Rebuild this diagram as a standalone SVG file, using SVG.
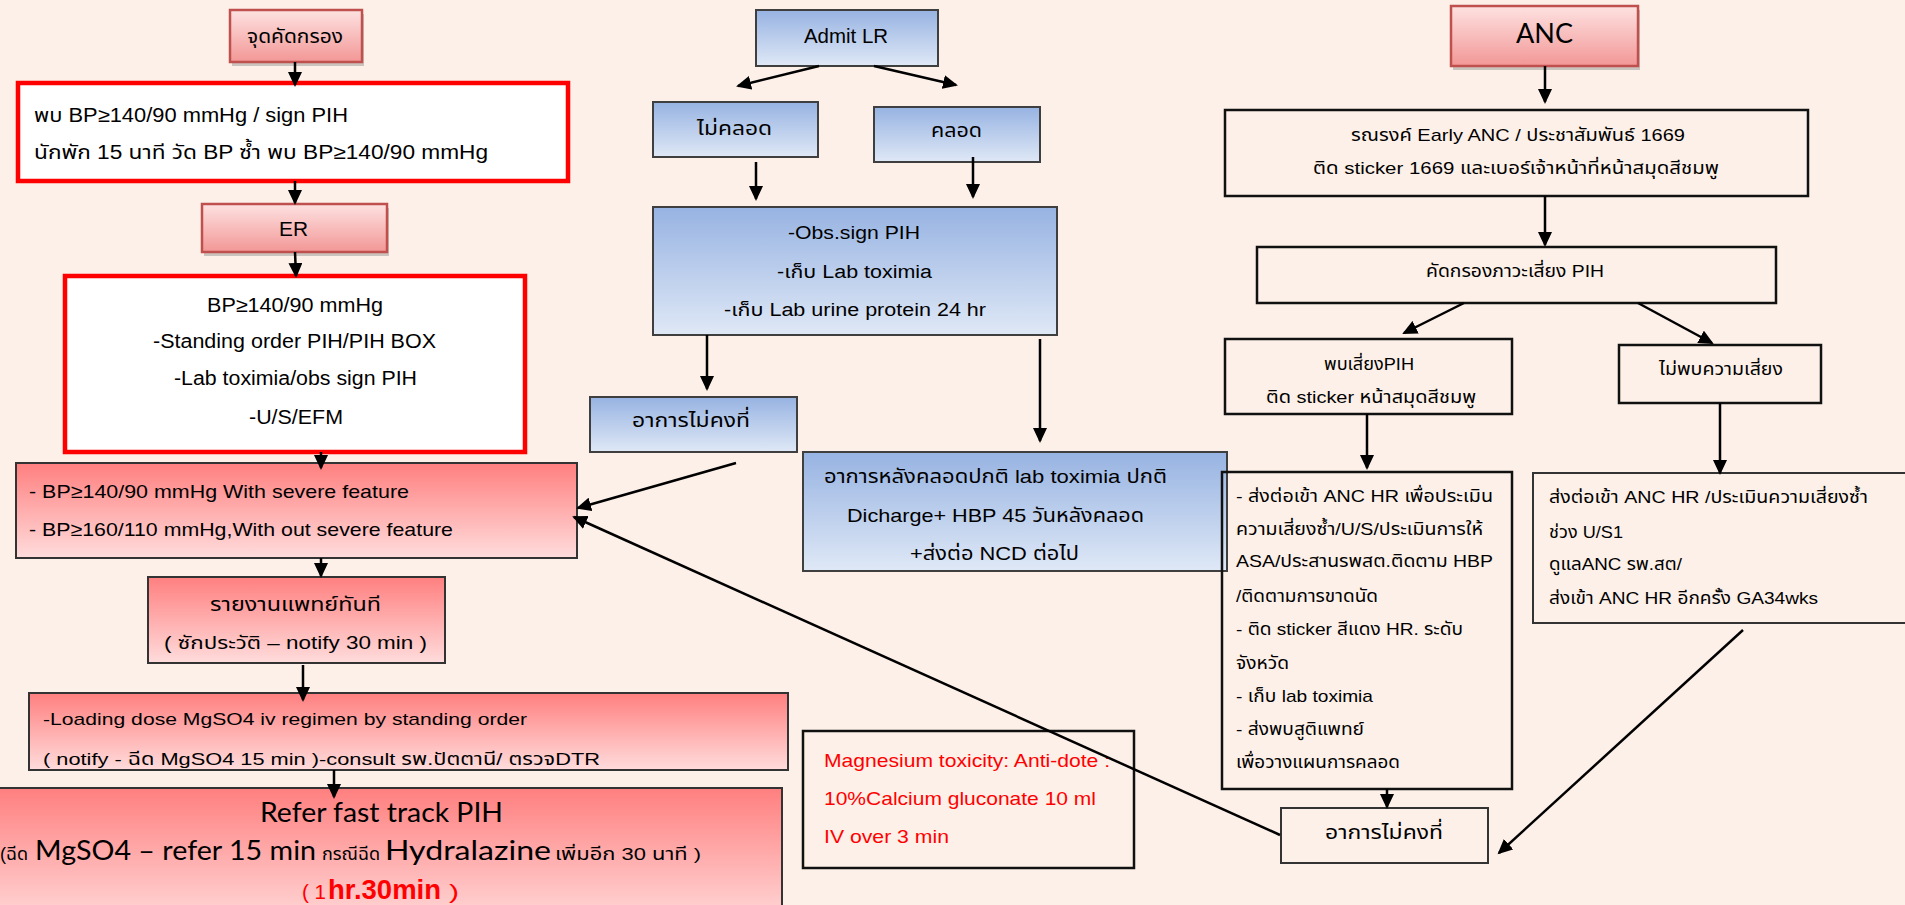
<svg xmlns="http://www.w3.org/2000/svg" width="1905" height="905" viewBox="0 0 1905 905">
  <style>
    .t { font-family: "Liberation Sans", "Noto Sans Thai", "Noto Sans", "DejaVu Sans", sans-serif; fill: #000; }
    .cal { font-family: Lato, "Liberation Sans", "Noto Sans Thai", sans-serif; fill: #000; }
    .red { fill: #ff0000; }
    .hdr { fill: url(#gHdr); stroke: #c0504d; stroke-width: 2.5; }
    .shadow { fill: #8c8c8c; opacity: 0.45; }
    .warn { fill: #ffffff; stroke: #ff0000; stroke-width: 4.5; }
    .rose { fill: url(#gRose); stroke: #333333; stroke-width: 2; }
    .blue { fill: url(#gBlue); stroke: #3f3f3f; stroke-width: 2; }
    .plain { fill: none; stroke: #111111; stroke-width: 2.5; }
    .plain2 { fill: none; stroke: #333333; stroke-width: 2; }
    #connectors line { stroke: #000; stroke-width: 2.5; marker-end: url(#ah); }
  </style>
  <defs>
    <linearGradient id="gHdr" x1="0" y1="0" x2="0" y2="1">
      <stop offset="0" stop-color="#fde2e1"/>
      <stop offset="1" stop-color="#f29796"/>
    </linearGradient>
    <linearGradient id="gRose" x1="0" y1="0" x2="0" y2="1">
      <stop offset="0" stop-color="#ff7f7f"/>
      <stop offset="1" stop-color="#ffdcdc"/>
    </linearGradient>
    <linearGradient id="gBlue" x1="0" y1="0" x2="0" y2="1">
      <stop offset="0" stop-color="#97b3e2"/>
      <stop offset="1" stop-color="#dfe8f6"/>
    </linearGradient>
    <marker id="ah" markerUnits="userSpaceOnUse" markerWidth="16" markerHeight="14" refX="13" refY="7" orient="auto">
      <path d="M0,0 L15,7 L0,14 z" fill="#000"/>
    </marker>
  </defs>

  <!-- page background -->
  <rect x="0" y="0" width="1905" height="905" fill="#fdf0e8"/>

  <!-- ===== Left column: screening / ER pathway ===== -->
  <g id="screening-point">
    <rect class="shadow" x="232" y="14" width="132" height="52"/>
    <rect class="hdr" x="230" y="10" width="132" height="52"/>
    <text class="t" x="247" y="43" font-size="20" textLength="96" lengthAdjust="spacingAndGlyphs">จุดคัดกรอง</text>
  </g>

  <g id="bp-found">
    <rect class="warn" x="18" y="83" width="550" height="98"/>
    <text class="t" x="34" y="122" font-size="20" textLength="314" lengthAdjust="spacingAndGlyphs">พบ BP≥140/90  mmHg / sign PIH</text>
    <text class="t" x="34" y="159" font-size="20" textLength="454" lengthAdjust="spacingAndGlyphs">นักพัก 15 นาที วัด BP ซ้ำ พบ BP≥140/90  mmHg</text>
  </g>

  <g id="er">
    <rect class="shadow" x="204" y="208" width="185" height="48"/>
    <rect class="hdr" x="202" y="204" width="185" height="48"/>
    <text class="t" x="279" y="236" font-size="20" textLength="29" lengthAdjust="spacingAndGlyphs">ER</text>
  </g>

  <g id="er-orders">
    <rect class="warn" x="65" y="276" width="460" height="176"/>
    <text class="t" x="207" y="312" font-size="20" textLength="176" lengthAdjust="spacingAndGlyphs">BP≥140/90  mmHg</text>
    <text class="t" x="153" y="348" font-size="20" textLength="283" lengthAdjust="spacingAndGlyphs">-Standing  order  PIH/PIH BOX</text>
    <text class="t" x="174" y="385" font-size="20" textLength="243" lengthAdjust="spacingAndGlyphs">-Lab  toximia/obs  sign  PIH</text>
    <text class="t" x="249" y="424" font-size="20" textLength="94" lengthAdjust="spacingAndGlyphs">-U/S/EFM</text>
  </g>

  <g id="severity">
    <rect class="rose" x="16" y="463" width="561" height="95"/>
    <text class="t" x="29" y="498" font-size="19" textLength="380" lengthAdjust="spacingAndGlyphs">- BP≥140/90 mmHg With severe  feature</text>
    <text class="t" x="29" y="536" font-size="19" textLength="424" lengthAdjust="spacingAndGlyphs">- BP≥160/110  mmHg,With out  severe  feature</text>
  </g>

  <g id="report-doctor">
    <rect class="rose" x="148" y="577" width="297" height="86"/>
    <text class="t" x="210" y="611" font-size="19" textLength="171" lengthAdjust="spacingAndGlyphs">รายงานแพทย์ทันที</text>
    <text class="t" x="164" y="649" font-size="18" textLength="263" lengthAdjust="spacingAndGlyphs">( ซักประวัติ – notify 30 min )</text>
  </g>

  <g id="loading-dose">
    <rect class="rose" x="29" y="693" width="759" height="77"/>
    <text class="t" x="43" y="725" font-size="17" textLength="484" lengthAdjust="spacingAndGlyphs">-Loading  dose MgSO4 iv regimen  by standing  order</text>
    <text class="t" x="43" y="765" font-size="17" textLength="557" lengthAdjust="spacingAndGlyphs">( notify - ฉีด MgSO4 15  min )-consult  รพ.ปัตตานี/  ตรวจDTR</text>
  </g>

  <g id="refer-fast-track">
    <rect class="rose" x="-5" y="788" width="787" height="140"/>
    <text class="cal" x="260" y="822" font-size="26" textLength="243" lengthAdjust="spacingAndGlyphs">Refer fast track PIH</text>
    <text class="t" x="28" y="860" font-size="18" text-anchor="end">(ฉีด</text>
    <text class="cal" x="35" y="860" font-size="26" textLength="281" lengthAdjust="spacingAndGlyphs">MgSO4 – refer 15 min</text>
    <text class="t" x="322" y="860" font-size="17" textLength="58" lengthAdjust="spacingAndGlyphs">กรณีฉีด</text>
    <text class="cal" x="385" y="860" font-size="26" textLength="166" lengthAdjust="spacingAndGlyphs">Hydralazine</text>
    <text class="t" x="555" y="860" font-size="17" textLength="146" lengthAdjust="spacingAndGlyphs">เพิ่มอีก 30 นาที )</text>
    <text class="t red" x="302" y="899" font-size="20" textLength="24" lengthAdjust="spacingAndGlyphs">( 1</text>
    <text class="t red" x="328" y="899" font-size="27" font-weight="bold" textLength="113" lengthAdjust="spacingAndGlyphs">hr.30min</text>
    <text class="t red" x="449" y="899" font-size="20" textLength="10" lengthAdjust="spacingAndGlyphs">)</text>
  </g>

  <!-- ===== Middle column: labour room ===== -->
  <g id="admit-lr">
    <rect class="blue" x="756" y="10" width="182" height="56"/>
    <text class="t" x="804" y="43" font-size="20" textLength="84" lengthAdjust="spacingAndGlyphs">Admit LR</text>
  </g>

  <g id="not-delivered">
    <rect class="blue" x="653" y="102" width="165" height="55"/>
    <text class="t" x="697" y="135" font-size="20" textLength="75" lengthAdjust="spacingAndGlyphs">ไม่คลอด</text>
  </g>

  <g id="delivered">
    <rect class="blue" x="874" y="107" width="166" height="55"/>
    <text class="t" x="931" y="137" font-size="20" textLength="51" lengthAdjust="spacingAndGlyphs">คลอด</text>
  </g>

  <g id="observe">
    <rect class="blue" x="653" y="207" width="404" height="128"/>
    <text class="t" x="788" y="239" font-size="18" textLength="132" lengthAdjust="spacingAndGlyphs">-Obs.sign PIH</text>
    <text class="t" x="777" y="278" font-size="18" textLength="155" lengthAdjust="spacingAndGlyphs">-เก็บ Lab  toximia</text>
    <text class="t" x="724" y="316" font-size="18" textLength="262" lengthAdjust="spacingAndGlyphs">-เก็บ Lab  urine  protein  24 hr</text>
  </g>

  <g id="lr-unstable">
    <rect class="blue" x="590" y="397" width="207" height="55"/>
    <text class="t" x="632" y="427" font-size="20" textLength="118" lengthAdjust="spacingAndGlyphs">อาการไม่คงที่</text>
  </g>

  <g id="discharge">
    <rect class="blue" x="803" y="452" width="424" height="119"/>
    <text class="t" x="824" y="483" font-size="19" textLength="343" lengthAdjust="spacingAndGlyphs">อาการหลังคลอดปกติ lab toximia ปกติ</text>
    <text class="t" x="847" y="522" font-size="19" textLength="297" lengthAdjust="spacingAndGlyphs">Dicharge+  HBP 45 วันหลังคลอด</text>
    <text class="t" x="910" y="560" font-size="19" textLength="169" lengthAdjust="spacingAndGlyphs">+ส่งต่อ NCD ต่อไป</text>
  </g>

  <g id="antidote">
    <rect class="plain" x="803" y="731" width="331" height="137"/>
    <text class="t red" x="824" y="767" font-size="19" textLength="286" lengthAdjust="spacingAndGlyphs">Magnesium  toxicity: Anti-dote :</text>
    <text class="t red" x="824" y="805" font-size="19" textLength="272" lengthAdjust="spacingAndGlyphs">10%Calcium  gluconate  10 ml</text>
    <text class="t red" x="824" y="843" font-size="19" textLength="125" lengthAdjust="spacingAndGlyphs">IV over  3 min</text>
  </g>

  <!-- ===== Right column: antenatal care ===== -->
  <g id="anc">
    <rect class="shadow" x="1453" y="10" width="187" height="60"/>
    <rect class="hdr" x="1451" y="6" width="187" height="60"/>
    <text class="cal" x="1516" y="43" font-size="27" textLength="57" lengthAdjust="spacingAndGlyphs">ANC</text>
  </g>

  <g id="campaign">
    <rect class="plain" x="1225" y="110" width="583" height="86"/>
    <text class="t" x="1351" y="141" font-size="17" textLength="334" lengthAdjust="spacingAndGlyphs">รณรงค์ Early  ANC / ประชาสัมพันธ์  1669</text>
    <text class="t" x="1313" y="174" font-size="17" textLength="406" lengthAdjust="spacingAndGlyphs">ติด sticker   1669  และเบอร์เจ้าหน้าที่หน้าสมุดสีชมพู</text>
  </g>

  <g id="risk-screen">
    <rect class="plain" x="1257" y="247" width="519" height="56"/>
    <text class="t" x="1426" y="277" font-size="17" textLength="178" lengthAdjust="spacingAndGlyphs">คัดกรองภาวะเสี่ยง  PIH</text>
  </g>

  <g id="risk-found">
    <rect class="plain" x="1225" y="339" width="287" height="75"/>
    <text class="t" x="1324" y="370" font-size="17" textLength="90" lengthAdjust="spacingAndGlyphs">พบเสี่ยงPIH</text>
    <text class="t" x="1266" y="403" font-size="17" textLength="210" lengthAdjust="spacingAndGlyphs">ติด sticker  หน้าสมุดสีชมพู</text>
  </g>

  <g id="no-risk">
    <rect class="plain" x="1619" y="345" width="202" height="58"/>
    <text class="t" x="1659" y="375" font-size="17" textLength="124" lengthAdjust="spacingAndGlyphs">ไม่พบความเสี่ยง</text>
  </g>

  <g id="high-risk-care">
    <rect class="plain" x="1222" y="472" width="290" height="317"/>
    <text class="t" x="1236" y="502" font-size="17" textLength="257" lengthAdjust="spacingAndGlyphs">- ส่งต่อเข้า ANC HR เพื่อประเมิน</text>
    <text class="t" x="1236" y="535" font-size="17" textLength="247" lengthAdjust="spacingAndGlyphs">ความเสี่ยงซ้ำ/U/S/ประเมินการให้</text>
    <text class="t" x="1236" y="567" font-size="17" textLength="257" lengthAdjust="spacingAndGlyphs">ASA/ประสานรพสต.ติดตาม  HBP</text>
    <text class="t" x="1236" y="602" font-size="17" textLength="142" lengthAdjust="spacingAndGlyphs">/ติดตามการขาดนัด</text>
    <text class="t" x="1236" y="635" font-size="17" textLength="227" lengthAdjust="spacingAndGlyphs">- ติด sticker สีแดง HR. ระดับ</text>
    <text class="t" x="1236" y="669" font-size="17" textLength="53" lengthAdjust="spacingAndGlyphs">จังหวัด</text>
    <text class="t" x="1236" y="702" font-size="17" textLength="137" lengthAdjust="spacingAndGlyphs">- เก็บ lab toximia</text>
    <text class="t" x="1236" y="735" font-size="17" textLength="128" lengthAdjust="spacingAndGlyphs">- ส่งพบสูติแพทย์</text>
    <text class="t" x="1236" y="768" font-size="17" textLength="164" lengthAdjust="spacingAndGlyphs">เพื่อวางแผนการคลอด</text>
  </g>

  <g id="low-risk-care">
    <rect class="plain2" x="1533" y="473" width="390" height="150"/>
    <text class="t" x="1549" y="503" font-size="17" textLength="319" lengthAdjust="spacingAndGlyphs">ส่งต่อเข้า ANC HR /ประเมินความเสี่ยงซ้ำ</text>
    <text class="t" x="1549" y="538" font-size="17" textLength="74" lengthAdjust="spacingAndGlyphs">ช่วง U/S1</text>
    <text class="t" x="1549" y="570" font-size="17" textLength="133" lengthAdjust="spacingAndGlyphs">ดูแลANC รพ.สต/</text>
    <text class="t" x="1549" y="604" font-size="17" textLength="269" lengthAdjust="spacingAndGlyphs">ส่งเข้า ANC HR อีกครั้ง GA34wks</text>
  </g>

  <g id="anc-unstable">
    <rect class="plain2" x="1281" y="808" width="207" height="55"/>
    <text class="t" x="1325" y="839" font-size="20" textLength="118" lengthAdjust="spacingAndGlyphs">อาการไม่คงที่</text>
  </g>

  <!-- ===== Connectors ===== -->
  <g id="connectors">
    <line x1="295" y1="62" x2="295" y2="85"/>
    <line x1="295" y1="181" x2="295" y2="203"/>
    <line x1="295" y1="252" x2="296" y2="276"/>
    <line x1="321" y1="452" x2="321" y2="468"/>
    <line x1="321" y1="558" x2="321" y2="576"/>
    <line x1="303" y1="665" x2="303" y2="700"/>
    <line x1="334" y1="770" x2="334" y2="797"/>

    <line x1="819" y1="66" x2="738" y2="86"/>
    <line x1="874" y1="66" x2="956" y2="85"/>
    <line x1="756" y1="162" x2="756" y2="199"/>
    <line x1="973" y1="157" x2="973" y2="197"/>
    <line x1="707" y1="335" x2="707" y2="389"/>
    <line x1="1040" y1="339" x2="1040" y2="441"/>
    <line x1="736" y1="463" x2="578" y2="508"/>
    <line x1="1280" y1="835" x2="574" y2="517"/>

    <line x1="1545" y1="66" x2="1545" y2="102"/>
    <line x1="1545" y1="196" x2="1545" y2="245"/>
    <line x1="1464" y1="303" x2="1404" y2="333"/>
    <line x1="1638" y1="303" x2="1712" y2="343"/>
    <line x1="1367" y1="414" x2="1367" y2="468"/>
    <line x1="1720" y1="403" x2="1720" y2="473"/>
    <line x1="1387" y1="789" x2="1387" y2="807"/>
    <line x1="1743" y1="630" x2="1499" y2="853"/>
  </g>
</svg>
